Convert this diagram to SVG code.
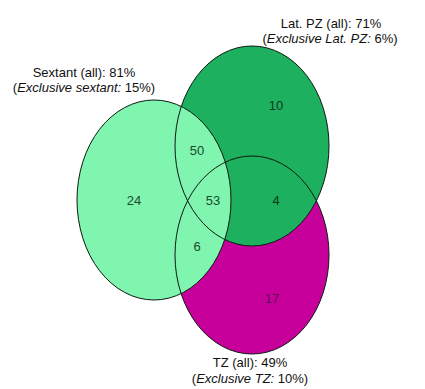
<svg xmlns="http://www.w3.org/2000/svg" width="425" height="389" viewBox="0 0 425 389">
<style>
text{font-family:"Liberation Sans",Arial,sans-serif;font-size:13px;fill:#111;text-anchor:middle}
.n{font-size:13px}
.outline{fill:none;stroke:#0a1a10;stroke-width:1}
</style>
<rect width="425" height="389" fill="#fff"/>
<g id="tz">
<ellipse cx="252" cy="255" rx="77" ry="99" fill="#c8009b"/>
</g>
<g id="latpz">
<ellipse cx="252" cy="146" rx="77" ry="100" fill="#1db05e"/>
</g>
<g id="sextant">
<ellipse cx="154" cy="200" rx="77" ry="100" fill="#80f5b0"/>
</g>
<g id="outlines">
<ellipse class="outline" cx="252" cy="255" rx="77" ry="99"/>
<ellipse class="outline" cx="252" cy="146" rx="77" ry="100"/>
<ellipse class="outline" cx="154" cy="200" rx="77" ry="100"/>
</g>
<g id="labels">
<text x="331" y="28">Lat. PZ (all): 71%</text>
<text x="330" y="43">(<tspan font-style="italic">Exclusive Lat. PZ:</tspan> 6%)</text>
<text x="84" y="77">Sextant (all): 81%</text>
<text x="84" y="92">(<tspan font-style="italic">Exclusive sextant:</tspan> 15%)</text>
<text x="250" y="367">TZ (all): 49%</text>
<text x="250" y="383">(<tspan font-style="italic">Exclusive TZ:</tspan> 10%)</text>
</g>
<g id="counts">
<text class="n" x="134" y="205" style="fill:#1a4a2a">24</text>
<text class="n" x="276" y="110" style="fill:#0a3a1a">10</text>
<text class="n" x="272" y="303" style="fill:#5a0a50">17</text>
<text class="n" x="197" y="155" style="fill:#1a4a2a">50</text>
<text class="n" x="213" y="205" style="fill:#1a4a2a">53</text>
<text class="n" x="197" y="251" style="fill:#1a4a2a">6</text>
<text class="n" x="276" y="205" style="fill:#0a3a1a">4</text>
</g>
</svg>
